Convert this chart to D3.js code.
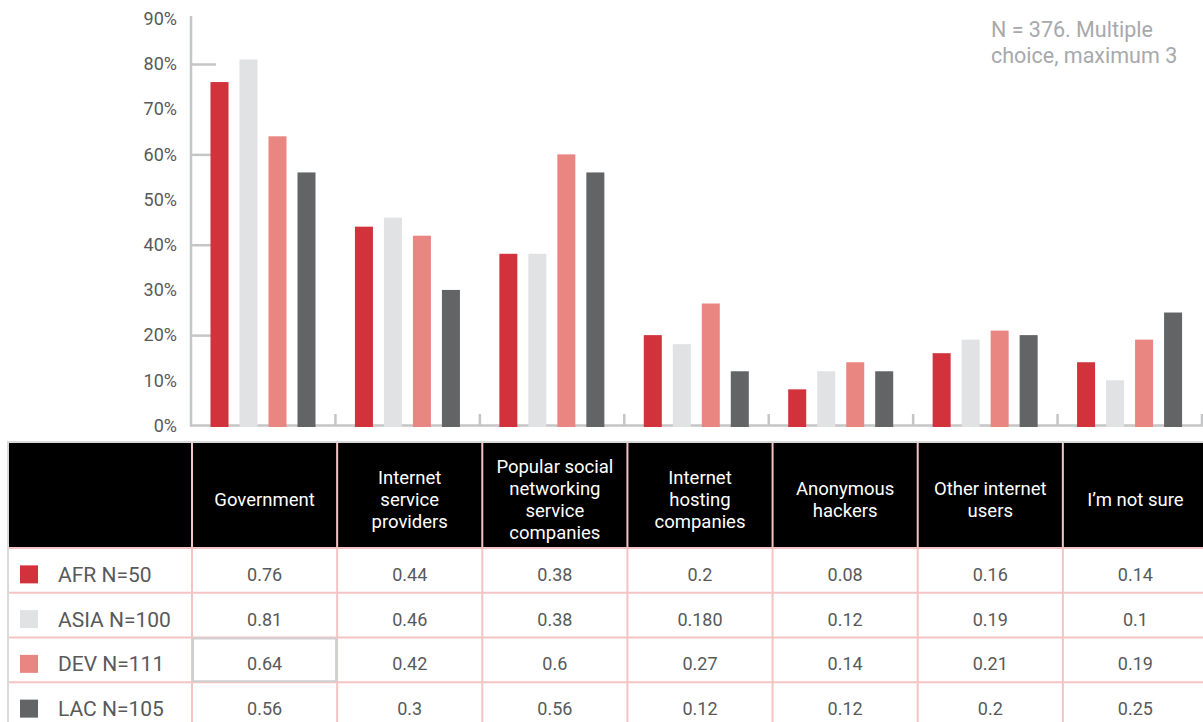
<!DOCTYPE html>
<html><head><meta charset="utf-8">
<script src="https://cdn.jsdelivr.net/npm/d3@7"></script>
<style>body{margin:0;background:#fff;} svg{display:block;font-family:Roboto, "Noto Sans", sans-serif;}</style>
</head><body><svg id="c" width="1203" height="722"></svg>
<script>
const categories = ["Government","Internet\nservice\nproviders","Popular social\nnetworking\nservice\ncompanies","Internet\nhosting\ncompanies","Anonymous\nhackers","Other internet\nusers","I’m not sure"];
const seriesNames = ["AFR N=50","ASIA N=100","DEV N=111","LAC N=105"];
const afrValues  = ["0.76","0.44","0.38","0.2","0.08","0.16","0.14"];
const asiaValues = ["0.81","0.46","0.38","0.180","0.12","0.19","0.1"];
const devValues  = ["0.64","0.42","0.6","0.27","0.14","0.21","0.19"];
const lacValues  = ["0.56","0.3","0.56","0.12","0.12","0.2","0.25"];
const yTickValues = [0,0.1,0.2,0.3,0.4,0.5,0.6,0.7,0.8,0.9];
const yMajorTicks = [0.2,0.4,0.6,0.8];
const seriesColors = ["#d1323b","#e1e2e4","#ea8682","#636466"];
const noteLines = ["N = 376. Multiple","choice, maximum 3"];

const seriesValues = [afrValues, asiaValues, devValues, lacValues];
const svg = d3.select("#c");
const axisColor = "#c4c5c6", labelColor = "#58595b";

const y = d3.scaleLinear().domain([0,0.9]).range([425.5, 18.8]);
const x0 = d3.scaleBand().domain(categories).range([191, 1202]);
const x1 = d3.scaleBand().domain(seriesNames).range([19.5, 19.5+105]).paddingInner(11/29).paddingOuter(0);

// y tick labels
const yAxis = svg.append("g").attr("transform","translate(191,0)")
  .call(d3.axisLeft(y).tickValues(yTickValues).tickFormat(d3.format(".0%")).tickSize(0).tickPadding(14));
yAxis.select(".domain").remove();
yAxis.selectAll("text").attr("fill",labelColor).style("font-size","18px").style("font-family","Roboto");

// inward ticks
const inTicks = svg.append("g").attr("transform","translate(191,0)")
  .call(d3.axisRight(y).tickValues(yMajorTicks).tickSize(25).tickFormat(""));
inTicks.select(".domain").remove();
inTicks.selectAll("line").attr("stroke",axisColor).attr("stroke-width",2.5);

// axis lines
svg.append("line").attr("x1",191).attr("x2",191).attr("y1",16).attr("y2",y(0)+1.2)
  .attr("stroke",axisColor).attr("stroke-width",2.5);
svg.append("line").attr("x1",191).attr("x2",1203).attr("y1",y(0)).attr("y2",y(0))
  .attr("stroke",axisColor).attr("stroke-width",2.5);
// category separators
svg.append("g").selectAll("line").data(categories.slice(1).concat(["__end"]))
  .join("line")
  .attr("x1",(d,i)=> i < categories.length-1 ? x0(d) : x0.range()[1])
  .attr("x2",(d,i)=> i < categories.length-1 ? x0(d) : x0.range()[1])
  .attr("y1",y(0)-11.5).attr("y2",y(0))
  .attr("stroke",axisColor).attr("stroke-width",2.5);

// bars
const groups = svg.append("g").selectAll("g").data(categories).join("g")
  .attr("transform",d=>`translate(${x0(d)},0)`);
groups.selectAll("rect").data((c,ci)=>seriesNames.map((s,si)=>({s, si, v:+seriesValues[si][ci]})))
  .join("rect")
  .attr("x",d=>x1(d.s)).attr("width",x1.bandwidth())
  .attr("y",d=>y(d.v)).attr("height",d=>y(0)-y(d.v)+1.5)
  .attr("fill",d=>seriesColors[d.si]);

// note
svg.append("text").attr("x",991).attr("y",37).attr("fill","#a7a9ac").style("font-size","21.5px")
  .selectAll("tspan").data(noteLines).join("tspan").attr("x",991).attr("dy",(d,i)=>i?26:0).text(d=>d);

// table
const pink = "#f4c4c4", grayBorder = "#d9d9d9";
const tx = d3.scaleBand().domain(categories).range([192, 1208]);
const ty = d3.scaleBand().domain(seriesNames).range([548, 727]);
const table = svg.append("g");
table.append("rect").attr("x",9).attr("y",443).attr("width",1194).attr("height",104).attr("fill","#000");
table.append("line").attr("x1",8).attr("x2",1203).attr("y1",442).attr("y2",442).attr("stroke",grayBorder).attr("stroke-width",2);
table.append("line").attr("x1",8).attr("x2",8).attr("y1",441).attr("y2",722).attr("stroke",grayBorder).attr("stroke-width",2);
// horizontal row lines
table.selectAll("line.h").data(seriesNames).join("line").attr("class","h")
  .attr("x1",9).attr("x2",1203).attr("y1",d=>ty(d)).attr("y2",d=>ty(d))
  .attr("stroke",pink).attr("stroke-width",2);
// vertical column lines
table.selectAll("line.v").data(categories).join("line").attr("class","v")
  .attr("x1",d=>tx(d)).attr("x2",d=>tx(d)).attr("y1",443).attr("y2",722)
  .attr("stroke",pink).attr("stroke-width",2);
// highlighted cell
table.append("rect").attr("x",tx(categories[0])+1).attr("y",ty(seriesNames[2])+1)
  .attr("width",tx.bandwidth()-2).attr("height",ty.bandwidth()-2)
  .attr("fill","none").attr("stroke","#cfcfcf").attr("stroke-width",2);

// header text
const hdr = table.selectAll("text.hdr").data(categories).join("text").attr("class","hdr")
  .attr("text-anchor","middle").attr("fill","#fff").style("font-size","18.5px");
hdr.each(function(d){
  const lines = d.split("\n");
  const cx = tx(d)+tx.bandwidth()/2;
  d3.select(this).selectAll("tspan").data(lines).join("tspan")
    .attr("x",cx).attr("y",(l,i)=>499 - (lines.length-1)*11 + i*22 + 6.5).text(l=>l);
});

// rows
seriesNames.forEach((s,si)=>{
  const cy = ty(s)+ty.bandwidth()/2 + 4;
  table.append("rect").attr("x",20).attr("y",cy-9).attr("width",18).attr("height",18).attr("fill",seriesColors[si]);
  table.append("text").attr("x",58).attr("y",cy+7.5).attr("fill",labelColor).style("font-size","21px").text(s);
  table.selectAll(null).data(seriesValues[si]).join("text")
    .attr("x",(d,i)=>tx(categories[i])+tx.bandwidth()/2).attr("y",cy+6.5)
    .attr("text-anchor","middle").attr("fill",labelColor).style("font-size","18px").text(d=>d);
});
</script></body></html>
